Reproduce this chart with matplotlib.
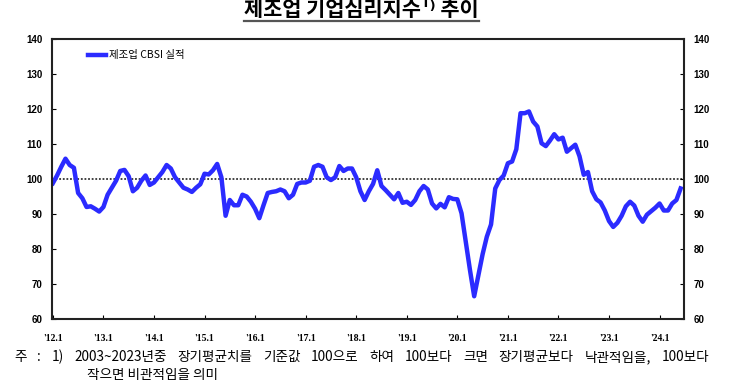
import numpy as np
import matplotlib
matplotlib.use("Agg")
import matplotlib.pyplot as plt
from matplotlib.lines import Line2D

plt.rcParams['font.family'] = ['Noto Sans CJK KR', 'DejaVu Sans']

# 제조업 CBSI 실적, 월별 ('12.1 ~ '24.6)
cbsi = [
    98.8, 101, 103.5, 105.8, 104, 103.2, 96, 94.5, 92, 92.2, 91.5, 90.7,          # 2012
    92, 95.5, 97.5, 99.5, 102.3, 102.6, 100.8, 96.5, 97.5, 99.5, 101, 98.3,       # 2013
    99, 100.5, 102, 104, 103, 100.5, 99, 97.5, 97, 96.3, 97.5, 98.5,              # 2014
    101.5, 101.3, 102.5, 104.3, 100.5, 89.5, 94, 92.5, 92.5, 95.5, 95, 93.5,      # 2015
    91.5, 88.8, 92.5, 96, 96.3, 96.5, 97, 96.5, 94.5, 95.5, 98.6, 99,             # 2016
    99, 99.5, 103.5, 104, 103.5, 100.5, 99.7, 100.5, 103.7, 102.3, 103, 103,      # 2017
    100.5, 96.5, 94, 96.5, 98.6, 102.5, 98, 96.8, 95.5, 94.2, 96, 93.2,           # 2018
    93.5, 92.6, 94, 96.5, 98, 97, 93, 91.6, 92.9, 91.9, 94.8, 94.3,               # 2019
    94.2, 90.2, 82, 74, 66.5, 72.5, 78.5, 83.5, 87, 97.3, 99.7, 101,              # 2020
    104.5, 105, 108.5, 118.8, 118.8, 119.3, 116.4, 115, 110.2, 109.4, 111, 112.8, # 2021
    111.3, 111.8, 107.8, 108.8, 109.8, 106.5, 101.2, 102, 96.5, 94.2, 93.3, 91,   # 2022
    88, 86.3, 87.5, 89.5, 92.2, 93.5, 92.4, 89.5, 87.8, 89.8, 90.8, 91.8,         # 2023
    93, 91, 91, 93, 94, 97.3,                                                     # 2024
]
tick_labels = ["'12.1", "'13.1", "'14.1", "'15.1", "'16.1", "'17.1", "'18.1",
               "'19.1", "'20.1", "'21.1", "'22.1", "'23.1", "'24.1"]
y_ticks = [60, 70, 80, 90, 100, 110, 120, 130, 140]
note_line1 = ['주', ':', '1)', '2003~2023년중', '장기평균치를', '기준값', '100으로', '하여',
              '100보다', '크면', '장기평균보다', '낙관적임을,', '100보다']
note_line2 = '작으면 비관적임을 의미'

x = np.arange(len(cbsi))

W, H = 738, 388
fig = plt.figure(figsize=(W / 100, H / 100), dpi=100)
ax = fig.add_axes([52 / W, 1 - 319 / H, 632 / W, 280 / H])

ax.axhline(100, color='#333333', lw=1.3, ls=(0, (1, 1)), zorder=1)
ax.plot(x, cbsi, color='#2b2bff', lw=3.2, solid_joinstyle='round',
        label='제조업 CBSI 실적', zorder=2)

ax.set_xlim(-0.2, 149.8)
ax.set_ylim(60, 140)
ax.set_yticks(y_ticks)
ax.set_yticklabels([str(v) for v in y_ticks], fontsize=7, fontweight='bold',
                   family='Liberation Sans')
ax.set_xticks(np.arange(0, 145, 12))
ax.set_xticklabels(tick_labels, fontsize=7, fontweight='bold', family='Liberation Serif')

ax.tick_params(axis='y', direction='in', left=True, right=True,
               labelleft=True, labelright=True, length=3, width=0.8, pad=7)
ax.tick_params(axis='x', direction='in', length=3, width=0.8, pad=11)
for s in ax.spines.values():
    s.set_linewidth(1.5)
    s.set_color('#222222')

leg = ax.legend(loc='upper left', bbox_to_anchor=(0.045, 0.985), frameon=False,
                fontsize=7.5, handlelength=1.8, handletextpad=0.2, borderpad=0.2)

# title
title = fig.text(0.49, 1 - 16 / H, '제조업 기업심리지수¹⁾ 추이', ha='center', va='baseline',
                 fontsize=15, fontweight='bold')

# footnote, line 1 spread between x=14 and x=709 like the original
y1 = 1 - 361 / H
words = [fig.text(0, y1, w, fontsize=9.8, va='baseline') for w in note_line1]
fig.canvas.draw()
r = fig.canvas.get_renderer()
widths = [t.get_window_extent(r).width for t in words]
gap = (709 - 14 - sum(widths)) / (len(words) - 1)
xpos = 14
for t, w in zip(words, widths):
    t.set_x(xpos / W)
    xpos += w + gap
fig.text(87 / W, 1 - 379 / H, note_line2, fontsize=9.8, va='baseline')

bb = title.get_window_extent(r)
uy = 1 - 21 / H
fig.add_artist(Line2D([bb.x0 / W, bb.x1 / W], [uy, uy], color='#555555', lw=1.6))

fig.savefig('out.png', dpi=100)
